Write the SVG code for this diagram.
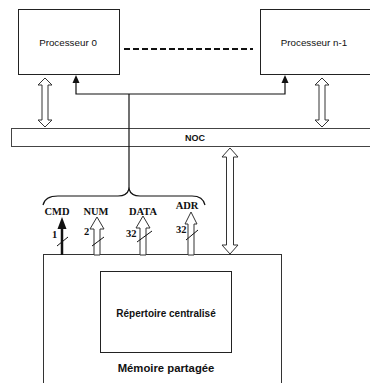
<svg xmlns="http://www.w3.org/2000/svg" width="370" height="383" viewBox="0 0 370 383">
<style>
.box{fill:#fff;stroke:#222;stroke-width:1}
.sans{font-family:"Liberation Sans",Arial,sans-serif;fill:#111}
.lbl{font-family:"Liberation Serif","Times New Roman",serif;font-weight:bold;font-size:10.5px;fill:#111}
.harrow{fill:#fff;stroke:#333;stroke-width:1}
.line{fill:none;stroke:#111;stroke-width:1.2}
.slash{stroke:#111;stroke-width:1}
.head{fill:#111}
</style>
<rect width="370" height="383" fill="#fff"/>
<g id="proc0">
<rect class="box" x="18.5" y="9.5" width="101" height="65"/>
<text class="sans" x="68" y="46" font-size="9.8" text-anchor="middle">Processeur 0</text>
</g>
<g id="procn">
<rect class="box" x="260.5" y="9.5" width="120" height="65"/>
<text class="sans" x="314" y="46" font-size="9.8" text-anchor="middle">Processeur n-1</text>
</g>
<g id="noc">
<rect x="11.5" y="128.5" width="370" height="18" fill="none" stroke="#444" stroke-width="1"/>
<text class="sans" x="195" y="141" font-size="9" font-weight="bold" text-anchor="middle">NOC</text>
</g>
<g id="memoire">
<rect x="43.5" y="254.5" width="238" height="140" fill="#fff" stroke="#333" stroke-width="1"/>
<text class="sans" x="166" y="372" font-size="11.3" font-weight="bold" text-anchor="middle">Mémoire partagée</text>
</g>
<g id="repertoire">
<rect class="box" x="100.5" y="271.5" width="131" height="81"/>
<text class="sans" x="166" y="317" font-size="10" font-weight="bold" text-anchor="middle">Répertoire centralisé</text>
</g>
<g id="connectors">
<line x1="124" y1="49" x2="253" y2="49" stroke="#111" stroke-width="2" stroke-dasharray="6,3"/>
<polygon class="harrow" points="45,78 52,85 48,85 48,120 52,120 45,127 38,120 42,120 42,85 38,85"/>
<polygon class="harrow" points="322,78 329,85 325,85 325,120 329,120 322,127 315,120 319,120 319,85 315,85"/>
<polygon class="harrow" points="230,148 238,157 233.5,157 233.5,245 238,245 230,254 222,245 226.5,245 226.5,157 222,157"/>
<polyline class="line" points="76,82 76,94 285,94 285,82"/>
<polygon class="head" points="76,75 79.5,83 72.5,83"/>
<polygon class="head" points="285,75 288.5,83 281.5,83"/>
<line class="line" x1="129" y1="94" x2="129" y2="190"/>
<path class="line" d="M43,205 Q45,196 58,196 H118 Q127,196 129,189 Q131,196 140,196 H192 Q203,196 205,205"/>
<line x1="62" y1="255" x2="62" y2="226" stroke="#111" stroke-width="2.5"/>
<polygon class="head" points="62,217 66.5,229 57.5,229"/>
<polygon class="harrow" points="97,217 104,229 100,229 100,255 94,255 94,229 90,229"/>
<polygon class="harrow" points="143,216 150,228 146,228 146,255 140,255 140,228 136,228"/>
<polygon class="harrow" points="191,212 197,224 194,224 194,255 188,255 188,224 185,224"/>
<line class="slash" x1="57" y1="246" x2="68" y2="237"/>
<line class="slash" x1="92" y1="246" x2="104" y2="237"/>
<line class="slash" x1="137" y1="242" x2="152" y2="231"/>
<line class="slash" x1="186" y1="240" x2="198" y2="230"/>
</g>
<g id="labels">
<text class="lbl" x="57" y="215" text-anchor="middle">CMD</text>
<text class="lbl" x="96" y="215" text-anchor="middle">NUM</text>
<text class="lbl" x="143" y="215" text-anchor="middle">DATA</text>
<text class="lbl" x="187" y="209" text-anchor="middle">ADR</text>
<text class="lbl" x="52" y="238">1</text>
<text class="lbl" x="84" y="235">2</text>
<text class="lbl" x="126" y="237">32</text>
<text class="lbl" x="176" y="233">32</text>
</g>
</svg>
